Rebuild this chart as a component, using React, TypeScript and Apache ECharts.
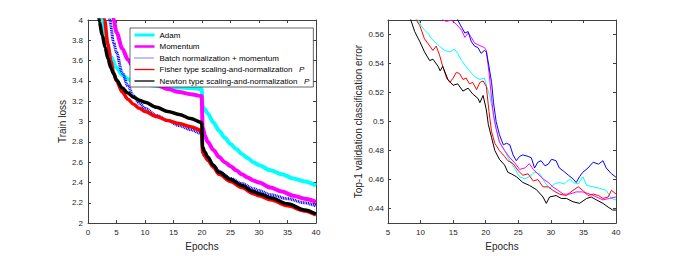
import React, { useEffect, useRef } from "react";
import * as echarts from "echarts";

// ---------- Data ----------
const seriesNames = [
  "Adam",
  "Momentum",
  "Batch normalization + momentum",
  "Fisher type scaling-and-normalization",
  "Newton type scaling-and-normalization",
];
const seriesColors = ["#00FFFF", "#FF00FF", "#0000FF", "#FF0000", "#000000"];

// Left panel: train loss vs epochs
const trainAdam: [number, number][] = [
  [2.0, 4.2], [2.5, 4.0], [3.0, 3.83], [3.5, 3.72], [4.0, 3.64], [5.0, 3.53], [6.0, 3.46],
  [7.0, 3.42], [8.0, 3.39], [10.0, 3.37], [12.0, 3.35], [15.0, 3.34], [18.0, 3.33], [19.95, 3.32],
  [20.1, 3.15], [20.5, 3.12], [21, 3.08], [22, 2.99], [23, 2.91], [24, 2.84], [25, 2.78],
  [26, 2.73], [27, 2.68], [28, 2.64], [29, 2.6], [30, 2.57], [32, 2.52], [34, 2.48],
  [36, 2.44], [38, 2.41], [40, 2.37],
];
const trainMomentum: [number, number][] = [
  [4.0, 4.2], [4.5, 4.0], [5, 3.88], [6, 3.72], [7, 3.61], [8, 3.53], [9, 3.47], [10, 3.43],
  [12, 3.36], [14, 3.32], [16, 3.29], [18, 3.27], [19.95, 3.25], [20.1, 2.95], [20.5, 2.86],
  [21, 2.8], [22, 2.72], [23, 2.65], [24, 2.6], [25, 2.56], [26, 2.52], [27, 2.48], [28, 2.45],
  [29, 2.42], [30, 2.4], [32, 2.35], [34, 2.31], [36, 2.27], [38, 2.24], [40, 2.21],
];
const trainBatch: [number, number][] = [
  [3.3, 4.2], [3.8, 4.0], [4.5, 3.78], [5, 3.68], [6, 3.48], [7, 3.35], [8, 3.25], [9, 3.18],
  [10, 3.13], [12, 3.06], [14, 3.01], [16, 2.96], [18, 2.92], [19.95, 2.88], [20.1, 2.7],
  [20.5, 2.66], [21, 2.62], [22, 2.56], [23, 2.51], [25, 2.44], [27, 2.39], [29, 2.34],
  [30, 2.32], [32, 2.28], [35, 2.24], [38, 2.2], [40, 2.17],
];
const trainFisher: [number, number][] = [
  [2.5, 4.2], [2.9, 4.0], [3.5, 3.76], [4, 3.6], [4.5, 3.48], [5, 3.4], [6, 3.29], [7, 3.22],
  [8, 3.17], [9, 3.13], [10, 3.1], [12, 3.05], [14, 3.01], [16, 2.98], [18, 2.95], [19.95, 2.91],
  [20.1, 2.7], [20.5, 2.66], [21, 2.62], [22, 2.55], [23, 2.48], [25, 2.41], [27, 2.35],
  [29, 2.29], [30, 2.27], [32, 2.23], [35, 2.17], [38, 2.12], [40, 2.08],
];
const trainNewton: [number, number][] = [
  [1.6, 4.2], [2.0, 3.98], [2.5, 3.85], [3, 3.73], [3.5, 3.62], [4, 3.53], [4.5, 3.47], [5, 3.41],
  [6, 3.33], [7, 3.28], [8, 3.24], [9, 3.21], [10, 3.19], [12, 3.14], [14, 3.1], [16, 3.07],
  [18, 3.03], [19.95, 2.99], [20.1, 2.75], [20.5, 2.7], [21, 2.65], [22, 2.57], [23, 2.5],
  [25, 2.43], [27, 2.37], [29, 2.31], [30, 2.29], [32, 2.25], [35, 2.19], [38, 2.13], [40, 2.09],
];

// Right panel: top-1 validation error vs epochs
const valAdam: [number, number][] = [
  [9.2, 0.58], [9.6, 0.57], [10.1, 0.566], [10.6, 0.563], [11.1, 0.561], [11.7, 0.557],
  [12.2, 0.555], [12.9, 0.552], [13.7, 0.549], [14.5, 0.548], [15.2, 0.55], [15.7, 0.547],
  [16.3, 0.542], [16.8, 0.539], [17.5, 0.535], [18.3, 0.531], [19.1, 0.529], [19.8, 0.53],
  [20.1, 0.525], [20.6, 0.518], [21.1, 0.507], [21.6, 0.495], [22.1, 0.486], [22.9, 0.48],
  [23.7, 0.473], [24.4, 0.468], [25.2, 0.462], [26.0, 0.4605], [26.7, 0.462], [27.5, 0.465],
  [28.3, 0.464], [29.1, 0.458], [29.8, 0.454], [30.6, 0.457], [31.3, 0.458], [32.1, 0.457],
  [32.9, 0.4605], [33.4, 0.458], [34.2, 0.457], [34.9, 0.462], [35.5, 0.456], [36.5, 0.455],
  [37.5, 0.454], [38.5, 0.4526], [39.3, 0.447], [40, 0.446],
];
const valMomentum: [number, number][] = [
  [13.0, 0.575], [13.4, 0.57], [14.0, 0.569], [14.7, 0.57], [15.5, 0.567], [16.3, 0.563],
  [16.8, 0.558], [17.3, 0.561], [17.8, 0.558], [18.3, 0.554], [18.8, 0.553], [19.3, 0.552],
  [19.8, 0.551], [20.1, 0.549], [20.5, 0.534], [20.9, 0.516], [21.2, 0.504], [21.6, 0.495],
  [22.1, 0.486], [22.9, 0.48], [23.7, 0.475], [24.4, 0.472], [25.2, 0.467], [26.0, 0.468],
  [26.7, 0.471], [27.3, 0.467], [28.0, 0.464], [28.8, 0.4605], [29.6, 0.458], [30.3, 0.455],
  [31.1, 0.4526], [31.9, 0.45], [32.9, 0.45], [33.9, 0.4515], [34.9, 0.4515], [36.0, 0.45],
  [37.0, 0.448], [38.0, 0.446], [39.0, 0.447], [40, 0.448],
];
const valBatch: [number, number][] = [
  [15.3, 0.575], [15.7, 0.57], [16.3, 0.565], [16.8, 0.561], [17.3, 0.562], [17.8, 0.555],
  [18.3, 0.552], [18.8, 0.551], [19.3, 0.547], [19.8, 0.549], [20.1, 0.548], [20.5, 0.538],
  [20.9, 0.527], [21.2, 0.513], [21.6, 0.5], [22.1, 0.491], [22.7, 0.484], [23.2, 0.485],
  [23.7, 0.484], [24.2, 0.477], [24.7, 0.473], [25.2, 0.476], [25.7, 0.477], [26.5, 0.476],
  [27.0, 0.475], [27.5, 0.468], [28.0, 0.472], [28.5, 0.473], [29.1, 0.4695], [29.6, 0.4706],
  [30.1, 0.474], [30.8, 0.473], [31.3, 0.468], [31.9, 0.466], [32.7, 0.463], [33.4, 0.4605],
  [33.9, 0.458], [34.4, 0.462], [34.9, 0.465], [35.7, 0.468], [36.5, 0.472], [37.3, 0.4706],
  [38.0, 0.473], [38.5, 0.468], [39.3, 0.464], [40, 0.4616],
];
const valFisher: [number, number][] = [
  [9.0, 0.58], [9.35, 0.57], [9.9, 0.566], [10.6, 0.557], [11.1, 0.554], [11.9, 0.549],
  [12.4, 0.552], [12.9, 0.546], [13.4, 0.538], [14.0, 0.53], [14.5, 0.527], [15.0, 0.53],
  [15.5, 0.534], [16.0, 0.533], [16.5, 0.529], [17.0, 0.53], [17.5, 0.526], [18.0, 0.527],
  [18.6, 0.522], [19.1, 0.527], [19.6, 0.528], [20.1, 0.524], [20.5, 0.507], [20.9, 0.493],
  [21.4, 0.485], [22.1, 0.48], [22.9, 0.476], [23.4, 0.473], [24.2, 0.471], [25.0, 0.466],
  [25.7, 0.463], [26.5, 0.464], [27.3, 0.459], [28.0, 0.46], [28.8, 0.455], [29.6, 0.455],
  [30.3, 0.4526], [31.3, 0.45], [32.4, 0.449], [33.4, 0.4526], [34.2, 0.455], [34.9, 0.4526],
  [35.7, 0.449], [36.5, 0.45], [37.3, 0.449], [38.0, 0.447], [38.8, 0.448], [39.3, 0.4526],
  [40, 0.45],
];
const valNewton: [number, number][] = [
  [8.0, 0.582], [8.5, 0.57], [9.1, 0.562], [9.9, 0.555], [10.6, 0.548], [11.4, 0.542],
  [11.9, 0.543], [12.7, 0.538], [13.0, 0.535], [13.4, 0.538], [14.2, 0.529], [15.0, 0.525],
  [15.7, 0.526], [16.5, 0.521], [17.3, 0.523], [18.0, 0.519], [18.8, 0.516], [19.1, 0.513],
  [19.6, 0.518], [20.1, 0.508], [20.4, 0.498], [20.9, 0.489], [21.4, 0.48], [22.1, 0.474],
  [22.9, 0.47], [23.4, 0.465], [23.9, 0.464], [24.7, 0.462], [25.7, 0.458], [26.7, 0.456],
  [27.8, 0.453], [28.8, 0.448], [29.3, 0.4436], [29.8, 0.448], [30.8, 0.449], [31.6, 0.447],
  [32.4, 0.447], [33.4, 0.4447], [34.4, 0.4436], [35.5, 0.447], [36.2, 0.448], [37.0, 0.446],
  [38.0, 0.4436], [38.8, 0.441], [39.5, 0.439], [40, 0.439],
];

const rightYTicks = [0.44, 0.46, 0.48, 0.5, 0.52, 0.54, 0.56];

const FONT = "'Liberation Sans', Arial, Helvetica, sans-serif";
const AXIS_COLOR = "#404040";
const TEXT_COLOR = "#262626";

function xAxisPair(gridIndex: number, min: number, max: number) {
  const lineStyle = { color: AXIS_COLOR, width: 1 };
  const base = {
    type: "value" as const,
    gridIndex,
    min,
    max,
    interval: 5,
    splitLine: { show: false },
    axisLine: { show: true, onZero: false, lineStyle },
    axisTick: { show: true, inside: true, length: 3, lineStyle },
  };
  return [
    {
      ...base,
      position: "bottom",
      axisLabel: { fontSize: 8, color: TEXT_COLOR, margin: 5, fontFamily: FONT },
      name: "Epochs",
      nameLocation: "middle",
      nameGap: 15,
      nameTextStyle: { fontSize: 10, color: TEXT_COLOR, fontFamily: FONT },
    },
    { ...base, position: "top", axisLabel: { show: false } },
  ];
}

function App() {
  const ref = useRef<HTMLDivElement>(null);
  useEffect(() => {
    if (!ref.current) return;
    const chart = echarts.init(ref.current, undefined, { renderer: "svg" });
    const lineStyle = { color: AXIS_COLOR, width: 1 };
    const trainData = [trainAdam, trainMomentum, trainBatch, trainFisher, trainNewton];
    const valData = [valAdam, valMomentum, valBatch, valFisher, valNewton];
    const trainWidths = [4, 4, 3, 3.5, 3.5];

    const series: any[] = [];
    trainData.forEach((d, i) => {
      series.push({
        type: "line",
        name: seriesNames[i],
        xAxisIndex: 0,
        yAxisIndex: 0,
        data: d,
        symbol: "none",
        smooth: 0.3,
        smoothMonotone: "x",
        clip: true,
        lineStyle: {
          color: seriesColors[i],
          width: trainWidths[i],
          type: i === 2 ? [1, 0.7] : "solid",
        },
        itemStyle: { color: seriesColors[i] },
        z: 2 + i,
      });
    });
    valData.forEach((d, i) => {
      series.push({
        type: "line",
        name: seriesNames[i],
        xAxisIndex: 2,
        yAxisIndex: 2,
        data: d,
        symbol: "none",
        clip: true,
        lineStyle: { color: seriesColors[i], width: 1 },
        itemStyle: { color: seriesColors[i] },
        z: 2 + i,
      });
    });

    const legendWidths = [3, 2.5, 1, 1.3, 1.3];
    chart.setOption({
      animation: false,
      backgroundColor: "#ffffff",
      textStyle: { fontFamily: FONT },
      grid: [
        { left: 88, top: 20, width: 228, height: 207 },
        { left: 388, top: 20, width: 228, height: 207 },
      ],
      xAxis: [...xAxisPair(0, 0, 40), ...xAxisPair(1, 5, 40)],
      yAxis: [
        {
          type: "value",
          gridIndex: 0,
          position: "left",
          min: 2,
          max: 4,
          interval: 0.2,
          splitLine: { show: false },
          axisLine: { show: true, onZero: false, lineStyle },
          axisTick: { show: true, inside: true, length: 3, lineStyle },
          axisLabel: {
            fontSize: 8,
            color: TEXT_COLOR,
            margin: 5,
            fontFamily: FONT,
            formatter: (v: number) => String(+v.toFixed(1)),
          },
          name: "Train loss",
          nameLocation: "middle",
          nameGap: 20,
          nameRotate: 90,
          nameTextStyle: { fontSize: 10, color: TEXT_COLOR, fontFamily: FONT },
        },
        {
          type: "value",
          gridIndex: 0,
          position: "right",
          min: 2,
          max: 4,
          interval: 0.2,
          splitLine: { show: false },
          axisLine: { show: true, onZero: false, lineStyle },
          axisTick: { show: true, inside: true, length: 3, lineStyle },
          axisLabel: { show: false },
        },
        {
          type: "value",
          gridIndex: 1,
          position: "left",
          min: 0.43,
          max: 0.57,
          interval: 0.01,
          splitLine: { show: false },
          axisLine: { show: true, onZero: false, lineStyle },
          axisTick: { show: true, inside: true, length: 3, lineStyle, customValues: rightYTicks },
          axisLabel: {
            fontSize: 8,
            color: TEXT_COLOR,
            margin: 4,
            fontFamily: FONT,
            customValues: rightYTicks,
            formatter: (v: number) =>
              Math.round(v * 100) % 2 === 0 ? String(+v.toFixed(2)) : "",
          },
          name: "Top-1 validation classification error",
          nameLocation: "middle",
          nameGap: 25,
          nameRotate: 90,
          nameTextStyle: { fontSize: 10, color: TEXT_COLOR, fontFamily: FONT },
        },
        {
          type: "value",
          gridIndex: 1,
          position: "right",
          min: 0.43,
          max: 0.57,
          interval: 0.01,
          splitLine: { show: false },
          axisLine: { show: true, onZero: false, lineStyle },
          axisTick: { show: true, inside: true, length: 3, lineStyle, customValues: rightYTicks },
          axisLabel: { show: false },
        },
      ],
      legend: {
        orient: "vertical",
        left: 130,
        top: 28,
        padding: [3, 4, 2, 3],
        itemWidth: 20,
        itemHeight: 8,
        itemGap: 3.5,
        selectedMode: false,
        backgroundColor: "#ffffff",
        borderColor: "#262626",
        borderWidth: 0.7,
        borderRadius: 0,
        textStyle: {
          fontSize: 8,
          color: "#000000",
          fontFamily: FONT,
          rich: { i: { fontStyle: "italic", fontSize: 8, color: "#000000", fontFamily: FONT } },
        },
        formatter: (name: string) =>
          name.indexOf("scaling") >= 0 ? name + "   {i|P}" : name,
        data: seriesNames.map((n, i) => ({
          name: n,
          itemStyle: { opacity: 0 },
          lineStyle: {
            color: seriesColors[i],
            width: legendWidths[i],
            type: i === 2 ? [1, 1] : "solid",
          },
        })),
      },
      series,
    });
    return () => chart.dispose();
  }, []);
  return (
    <div
      ref={ref}
      style={{ position: "fixed", left: 0, top: 0, width: 681, height: 256, background: "#fff" }}
    />
  );
}

export default App;
